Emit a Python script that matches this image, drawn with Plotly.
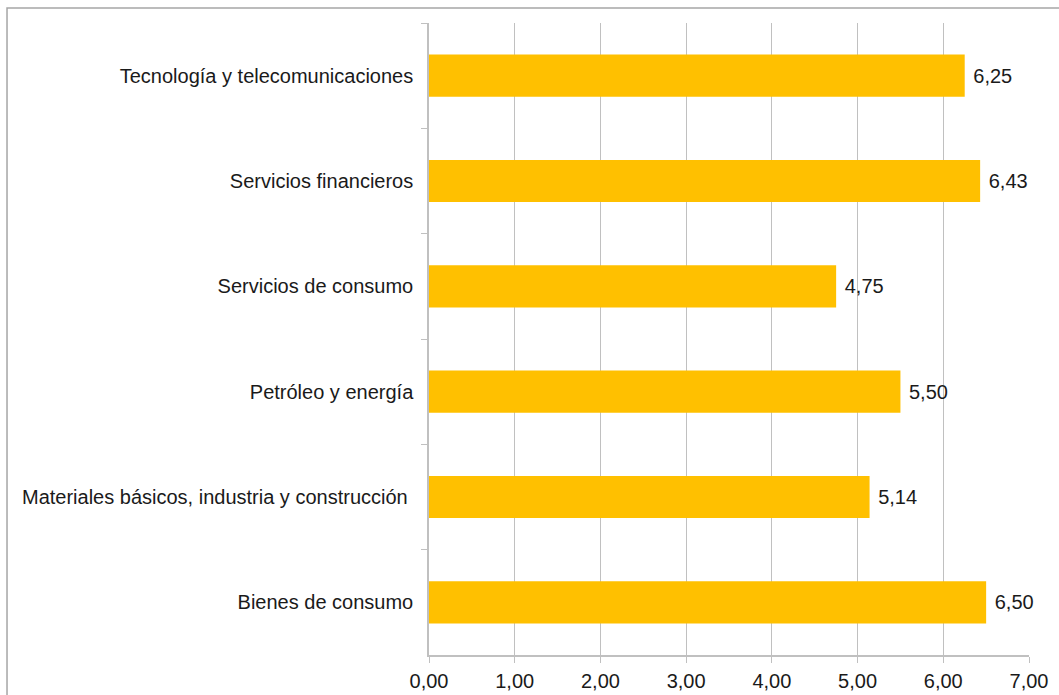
import plotly.graph_objects as go

# Sectores, de arriba abajo
sectores = [
    "Tecnología y telecomunicaciones",
    "Servicios financieros",
    "Servicios de consumo",
    "Petróleo y energía",
    "Materiales básicos, industria y construcción ",
    "Bienes de consumo",
]
valores = [6.25, 6.43, 4.75, 5.50, 5.14, 6.50]
ticks_x = [0, 1, 2, 3, 4, 5, 6, 7]

GRID = "#c0c0c0"
FONT = "Liberation Sans, Arial, sans-serif"
SIZE = 20

fig = go.Figure(
    go.Bar(
        x=valores,
        y=sectores,
        orientation="h",
        marker=dict(color="#FFC000", line=dict(width=0)),
        texttemplate="\u00a0%{x:.2f}",
        textposition="outside",
        textfont=dict(family=FONT, size=SIZE, color="#1a1a1a"),
        cliponaxis=False,
    )
)

fig.update_layout(
    width=1059,
    height=695,
    margin=dict(l=429, r=30, t=23, b=40),
    paper_bgcolor="white",
    plot_bgcolor="white",
    separators=",.",
    bargap=0.6,
    showlegend=False,
    font=dict(family=FONT, size=SIZE, color="#1a1a1a"),
    xaxis=dict(
        range=[0, 7],
        tickvals=ticks_x,
        tickformat=".2f",
        automargin=False,
        showgrid=True,
        gridcolor=GRID,
        gridwidth=1,
        zeroline=False,
        showline=True,
        linecolor=GRID,
        linewidth=1.5,
        ticks="outside",
        ticklen=6,
        tickcolor=GRID,
        ticklabelstandoff=1,
        tickfont=dict(size=SIZE),
    ),
    yaxis=dict(
        autorange="reversed",
        automargin=False,
        tickson="boundaries",
        ticks="outside",
        ticklen=6,
        tickcolor=GRID,
        ticklabelstandoff=10,
        showgrid=False,
        showline=True,
        linecolor=GRID,
        linewidth=1.5,
        zeroline=False,
        tickfont=dict(size=SIZE),
    ),
    shapes=[
        dict(
            type="rect",
            xref="paper",
            yref="paper",
            x0=-0.7033,
            x1=1.2,
            y0=-0.2,
            y1=1.0237,
            line=dict(color="#a6a6a6", width=1.5),
            fillcolor="rgba(0,0,0,0)",
            layer="below",
        )
    ],
)

fig.write_html("out.html")
